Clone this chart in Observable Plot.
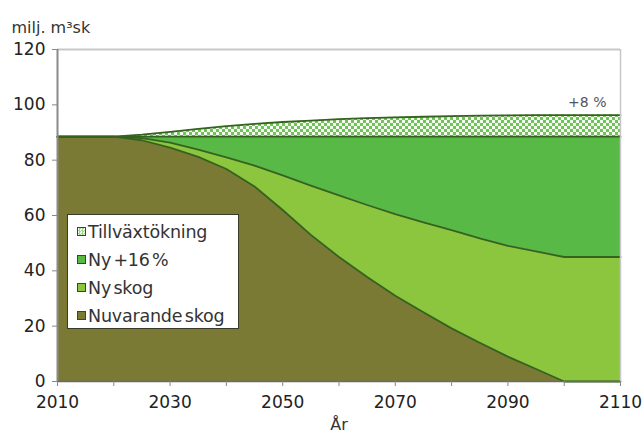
<!DOCTYPE html>
<html><head><meta charset="utf-8">
<script src="https://cdn.jsdelivr.net/npm/d3@7"></script>
<script src="https://cdn.jsdelivr.net/npm/@observablehq/plot@0.6"></script>
<style>
body{margin:0;background:#fff;}
#chart{position:relative;width:643px;height:441px;font-family:"DejaVu Sans",sans-serif;}
#legend{position:absolute;left:67px;top:214px;width:172px;height:115px;border:1.5px solid #3a3a2a;background:#fff;box-sizing:border-box;}
.row{position:absolute;left:9px;height:24px;display:flex;align-items:center;font-size:17.5px;color:#333;letter-spacing:-0.2px;word-spacing:-3px;white-space:nowrap;}
.sw{width:7px;height:7px;border:1px solid #3a4a20;margin-right:2px;}
</style></head><body><div id="chart"><div id="legend"></div></div>
<script>
const years = [2010,2015,2020,2025,2030,2035,2040,2045,2050,2055,2060,2065,2070,2075,2080,2085,2090,2095,2100,2105,2110];
const nuvarandeSkog = [88.5,88.5,88.5,87.2,84.5,81.2,76.8,70.5,62,53,45,37.8,31,25,19.2,14,9,4.5,0,0,0];
const nySkog = [0,0,0,0.8,1.8,2.6,4.2,7.5,12.5,17.8,22.3,26,29.5,32.5,35.5,37.7,40,42.5,45,45,45];
const ny16 = [0,0,0,0.5,2.2,4.7,7.5,10.5,14,17.7,21.2,24.7,28,31,33.8,36.8,39.5,41.5,43.5,43.5,43.5];
const tillvaxt = [0,0,0,0.7,1.7,2.8,3.8,4.6,5.3,5.8,6.3,6.7,7.0,7.2,7.4,7.6,7.7,7.8,7.8,7.8,7.8];
const seriesNames = ["Nuvarande skog","Ny skog","Ny +16 %","Tillväxtökning"];
const seriesColors = ["#7b7a34","#8cc63f","#58b947","url(#checker)"];
const yTicks = [0,20,40,60,80,100,120];
const xTicks = [2010,2020,2030,2040,2050,2060,2070,2080,2090,2100,2110];
const xLabels = [2010,2030,2050,2070,2090,2110];
const yTitle = "milj. m³sk";
const xTitle = "År";
const note = "+8 %";

const seriesValues = [nuvarandeSkog, nySkog, ny16, tillvaxt];
const data = seriesNames.flatMap((s,i)=>years.map((y,j)=>({year:y, serie:s, value:seriesValues[i][j]})));

const defs = () => {
  const d = d3.create("svg:defs");
  const p = d.append("pattern").attr("id","checker").attr("width",6).attr("height",6).attr("patternUnits","userSpaceOnUse");
  p.append("rect").attr("width",6).attr("height",6).attr("fill","#72c25c");
  p.append("rect").attr("width",3).attr("height",3).attr("fill","#f4fbef");
  p.append("rect").attr("x",3).attr("y",3).attr("width",3).attr("height",3).attr("fill","#f4fbef");
  return d.node();
};

const plot = Plot.plot({
  width:643, height:441,
  marginLeft:57, marginRight:23, marginTop:49, marginBottom:60,
  style:{fontFamily:"DejaVu Sans", fontSize:"17px", color:"#222", background:"#fff", overflow:"visible"},
  x:{domain:[2010,2110]},
  y:{domain:[0,120]},
  color:{domain:seriesNames, range:seriesColors},
  marks:[
    defs,
    Plot.areaY(data, Plot.stackY({x:"year", y:"value", z:"serie", fill:"serie"})),
    Plot.lineY(data, Plot.stackY2({x:"year", y:"value", z:"serie", stroke:"#35621f", strokeWidth:1.8})),
    Plot.ruleY([120], {stroke:"#c8c8c8", strokeWidth:2}),
    Plot.ruleX([2110], {stroke:"#c8c8c8", strokeWidth:1.5}),
    Plot.ruleX([2010], {stroke:"#8a8a8a", strokeWidth:2}),
    Plot.ruleY([0], {stroke:"#6a6a6a", strokeWidth:1.5}),
    Plot.axisY({ticks:yTicks, tickSize:5, tickPadding:7, stroke:"#888", label:null, fontSize:17}),
    Plot.axisX({ticks:xTicks, tickSize:5, tickPadding:9, stroke:"#888", label:null, fontSize:17,
      tickFormat:d=>xLabels.includes(d)?String(d):""}),
    Plot.text([yTitle], {frameAnchor:"top-left", dx:-46, dy:-28, textAnchor:"start", fontSize:16, fill:"#333"}),
    Plot.text([xTitle], {frameAnchor:"bottom", dy:48, fontSize:16, fill:"#333"}),
    Plot.text([note], {frameAnchor:"top-right", dx:-14, dy:48, textAnchor:"end", fontSize:14, fill:"#555"})
  ]
});
document.getElementById("chart").prepend(plot);

const legendColors = ["#7b7a34","#8cc63f","#58b947","repeating-conic-gradient(#9fd88c 0 25%, #f4fbef 0 50%) 0 0/3px 3px"];
const legend = document.getElementById("legend");
const order = [3,2,1,0];
order.forEach((k,i)=>{
  const row = document.createElement("div");
  row.className = "row";
  row.style.top = (4.5 + i*28) + "px";
  const sw = document.createElement("span");
  sw.className = "sw";
  sw.style.background = legendColors[k];
  row.appendChild(sw);
  row.appendChild(document.createTextNode(seriesNames[k]));
  legend.appendChild(row);
});
</script></body></html>
